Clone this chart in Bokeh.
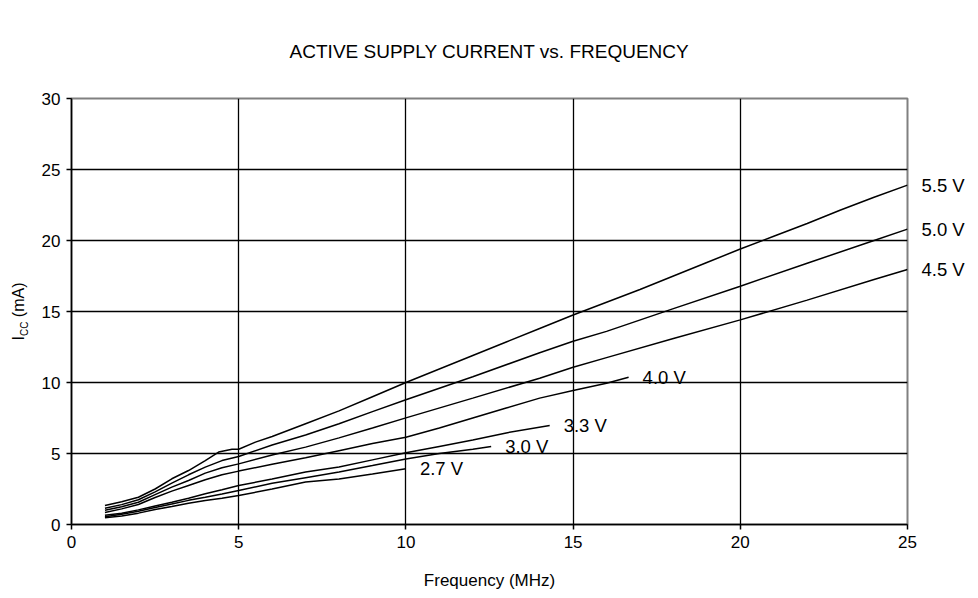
import math
from bokeh.plotting import figure
from bokeh.models import Label, Range1d, FixedTicker, LinearAxis
from bokeh.embed import file_html
from bokeh.resources import INLINE

# ---- data ----
labels = ["5.5 V", "5.0 V", "4.5 V", "4.0 V", "3.3 V", "3.0 V", "2.7 V"]

f_55 = [1, 1.5, 2, 2.5, 3, 3.5, 4, 4.4, 4.8, 5, 5.5, 6, 7, 8, 9, 10, 11, 12, 13, 14, 15, 16, 17, 18, 19, 20, 21, 22, 23, 24, 25]
i_55 = [1.34, 1.6, 1.92, 2.5, 3.22, 3.8, 4.5, 5.1, 5.3, 5.3, 5.8, 6.2, 7.1, 8.0, 9.0, 10.0, 10.95, 11.9, 12.85, 13.8, 14.75, 15.65, 16.55, 17.5, 18.45, 19.4, 20.3, 21.2, 22.15, 23.05, 23.9]

f_50 = [1, 1.5, 2, 2.5, 3, 3.5, 4, 4.5, 5, 6, 7, 8, 9, 10, 12, 14, 15, 16, 18, 20, 22, 24, 25]
i_50 = [1.15, 1.4, 1.74, 2.3, 2.91, 3.5, 4.04, 4.5, 4.79, 5.6, 6.3, 7.1, 7.95, 8.78, 10.4, 12.1, 12.9, 13.6, 15.2, 16.78, 18.4, 20.0, 20.8]

f_45 = [1, 1.5, 2, 2.5, 3, 3.5, 4, 4.5, 5, 6, 7, 8, 9, 10, 12, 14, 15, 16, 18, 20, 22, 24, 25]
i_45 = [1.0, 1.25, 1.57, 2.1, 2.63, 3.1, 3.62, 4.0, 4.27, 4.9, 5.45, 6.1, 6.8, 7.51, 8.9, 10.3, 11.08, 11.75, 13.1, 14.41, 15.8, 17.25, 17.96]

f_40 = [1, 1.5, 2, 2.5, 3, 3.5, 4, 4.5, 5, 6, 7, 8, 9, 10, 11, 12, 13, 14, 15, 16, 16.66]
i_40 = [0.85, 1.1, 1.41, 1.9, 2.35, 2.75, 3.15, 3.5, 3.76, 4.25, 4.7, 5.2, 5.7, 6.15, 6.8, 7.5, 8.2, 8.9, 9.44, 9.95, 10.37]

f_33 = [1, 1.5, 2, 2.5, 3, 3.5, 4, 4.5, 5, 6, 7, 8, 9, 10, 11, 12, 13, 14.3]
i_33 = [0.65, 0.8, 1.03, 1.3, 1.57, 1.85, 2.16, 2.45, 2.75, 3.2, 3.7, 4.05, 4.55, 5.05, 5.5, 5.95, 6.45, 6.97]

f_30 = [1, 1.5, 2, 2.5, 3, 3.5, 4, 4.5, 5, 6, 7, 8, 9, 10, 11, 12, 12.55]
i_30 = [0.55, 0.72, 0.94, 1.2, 1.45, 1.7, 1.92, 2.15, 2.39, 2.9, 3.3, 3.7, 4.15, 4.62, 5.0, 5.3, 5.49]

f_27 = [1, 1.5, 2, 2.5, 3, 3.5, 4, 4.5, 5, 6, 7, 8, 9, 10]
i_27 = [0.47, 0.6, 0.8, 1.05, 1.27, 1.5, 1.69, 1.85, 2.04, 2.5, 3.0, 3.2, 3.55, 3.92]

x_ticks = [0, 5, 10, 15, 20, 25]
y_ticks = [0, 5, 10, 15, 20, 25, 30]

title_text = "ACTIVE SUPPLY CURRENT vs. FREQUENCY"
x_title = "Frequency (MHz)"
y_title_parts = ["I", "CC", "(mA)"]   # I with subscript CC, then (mA)

series = [(f_55, i_55), (f_50, i_50), (f_45, i_45), (f_40, i_40),
          (f_33, i_33), (f_30, i_30), (f_27, i_27)]

# ---- layout ----
W, H = 976, 596
BL, BR, BT, BB = 71, 69, 98, 72
XMIN, XMAX, YMIN, YMAX = 0, 25, 0, 30
FH = H - BT - BB
px_y = FH / (YMAX - YMIN)
FONT = "Liberation Sans"

p = figure(width=W, height=H, x_range=Range1d(XMIN, XMAX), y_range=Range1d(YMIN, YMAX),
           output_backend="svg", toolbar_location=None,
           min_border_left=BL, min_border_right=BR, min_border_top=BT, min_border_bottom=BB,
           background_fill_color="white", border_fill_color="white")

p.outline_line_color = "#808080"
p.outline_line_width = 2

p.title.text = title_text
p.title.align = "center"
p.title.text_font = FONT
p.title.text_font_size = "19px"
p.title.text_font_style = "normal"
p.title.text_color = "black"
p.title.standoff = 74

for ax, ticks in ((p.xaxis, x_ticks), (p.yaxis, y_ticks)):
    ax.ticker = FixedTicker(ticks=ticks)
    ax.axis_line_color = "black"
    ax.axis_line_width = 1.5
    ax.major_tick_line_color = "black"
    ax.major_tick_line_width = 1.5
    ax.major_tick_out = 5
    ax.major_tick_in = 0
    ax.minor_tick_line_color = None
    ax.major_label_text_font = FONT
    ax.major_label_text_font_size = "17px"
    ax.major_label_text_color = "black"
    ax.major_label_standoff = 6

p.xaxis.axis_label = x_title
p.xaxis.axis_label_text_font = FONT
p.xaxis.axis_label_text_font_size = "17px"
p.xaxis.axis_label_text_font_style = "normal"
p.xaxis.axis_label_text_color = "black"
p.xaxis.axis_label_standoff = 20

p.xgrid.ticker = FixedTicker(ticks=[t for t in x_ticks if XMIN < t < XMAX])
p.ygrid.ticker = FixedTicker(ticks=[t for t in y_ticks if YMIN < t < YMAX])
for g in (p.xgrid, p.ygrid):
    g.grid_line_color = "black"
    g.grid_line_width = 1.3
    g.grid_line_alpha = 1.0

right_ticks, right_text = [], {}
for (fx, iy), lab in zip(series, labels):
    p.line(fx, iy, line_color="black", line_width=1.5)
    if fx[-1] >= XMAX:
        right_ticks.append(iy[-1])
        right_text[iy[-1]] = lab
    else:
        p.add_layout(Label(x=fx[-1], y=iy[-1], x_offset=14, text=lab,
                           text_font=FONT, text_font_size="18.5px", text_color="black",
                           text_align="left", text_baseline="middle"))

# curve labels at the right edge, as a tick-label-only axis
rax = LinearAxis(ticker=FixedTicker(ticks=right_ticks), major_label_overrides=right_text,
                 axis_line_color=None, major_tick_line_color=None, minor_tick_line_color=None,
                 major_tick_out=0, major_tick_in=0, major_label_standoff=14,
                 major_label_text_font=FONT, major_label_text_font_size="18.5px",
                 major_label_text_color="black")
p.add_layout(rax, "right")

# y axis title "I_CC (mA)" built from rotated tick labels of two label-only axes
fs_main, fs_sub = 16, 10
w_I = 0.278 * fs_main
w_CC = 2 * 0.722 * fs_sub
w_sp = 0.278 * fs_main
w_mA = (0.333 + 0.833 + 0.667 + 0.333) * fs_main
total = w_I + w_CC + w_sp + w_mA
ymid = (YMIN + YMAX) / 2
y0 = ymid - (total / 2) / px_y
pos_I = y0 + (w_I / 2) / px_y
pos_CC = y0 + (w_I + w_CC / 2) / px_y
pos_mA = y0 + (w_I + w_CC + w_sp + w_mA / 2) / px_y

common = dict(axis_line_color=None, major_tick_line_color=None, minor_tick_line_color=None,
              major_tick_out=0, major_tick_in=0, major_label_orientation="parallel",
              major_label_text_font=FONT, major_label_text_color="black")
sub_axis = LinearAxis(ticker=FixedTicker(ticks=[pos_CC]),
                      major_label_overrides={pos_CC: y_title_parts[1]},
                      major_label_standoff=8, major_label_text_font_size=f"{fs_sub}px", **common)
main_axis = LinearAxis(ticker=FixedTicker(ticks=[pos_I, pos_mA]),
                       major_label_overrides={pos_I: y_title_parts[0], pos_mA: y_title_parts[2]},
                       major_label_standoff=-11, major_label_text_font_size=f"{fs_main}px", **common)
p.add_layout(sub_axis, "left")
p.add_layout(main_axis, "left")

open("out.html", "w").write(file_html(p, INLINE))
